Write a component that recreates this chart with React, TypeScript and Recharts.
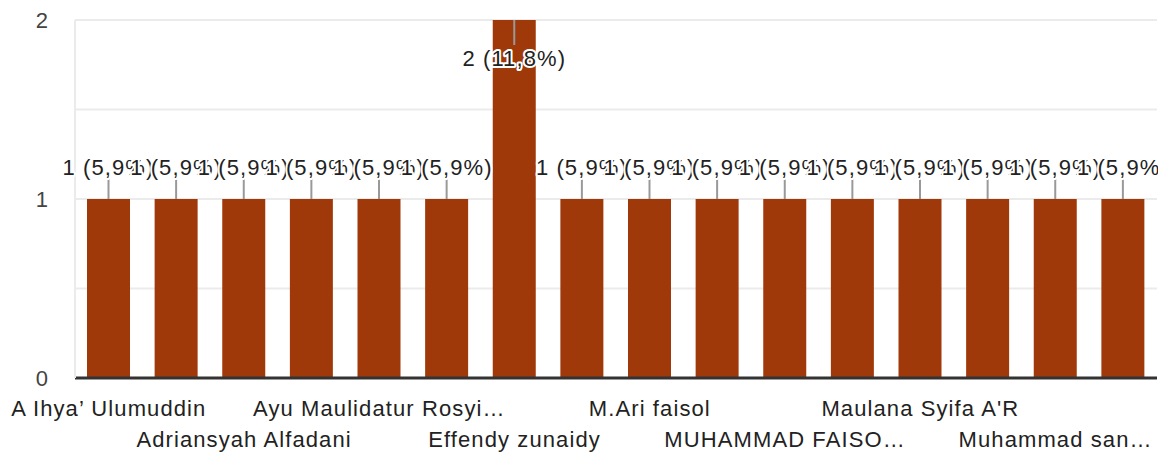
import { Bar, BarChart, CartesianGrid, LabelList, ReferenceLine, XAxis, YAxis } from 'recharts';

const NAMES = [
  'A Ihya’ Ulumuddin',
  'Achmad Fauzi',
  'Adriansyah Alfadani',
  'Ahmad Rizki',
  'Ayu Maulidatur Rosyi…',
  'Dewi Lestari',
  'Effendy zunaidy',
  'Fajar Nugroho',
  'M.Ari faisol',
  'M.Rizal',
  'MUHAMMAD FAISO…',
  'Mahmud',
  "Maulana Syifa A'R",
  'Moh. Hasan',
  'Muhammad san…',
  'Nur Hidayah',
];

const COUNTS = [1, 1, 1, 1, 1, 1, 2, 1, 1, 1, 1, 1, 1, 1, 1, 1];

const Y_TICKS = [0, 0.5, 1, 1.5, 2];

const BAR_COLOR = '#a0390a';
const FONT = '"Liberation Sans", Arial, sans-serif';

const total = COUNTS.reduce((s, v) => s + v, 0);
const data = NAMES.map((name, i) => ({ name, value: COUNTS[i] }));

const pct = (v: number) => `${((v / total) * 100).toFixed(1).replace('.', ',')}%`;

function XTick(props: any) {
  const { x, y, payload, index } = props;
  if (index % 2 !== 0) return null;
  const row = index % 4 === 0 ? 0 : 1;
  return (
    <text
      x={x}
      y={y + 30 + row * 31}
      textAnchor="middle"
      fontSize={22}
      letterSpacing={1.1}
      fontFamily={FONT}
      fill="#222"
    >
      {payload.value}
    </text>
  );
}

function YTick(props: any) {
  const { y, payload } = props;
  if (!Number.isInteger(payload.value)) return null;
  return (
    <text x={48} y={y} dy="0.36em" textAnchor="end" fontSize={22} fontFamily={FONT} fill="#444">
      {payload.value}
    </text>
  );
}

function ValueLabel(props: any) {
  const { x, y, width, value } = props;
  const cx = x + width / 2;
  const inside = y - 45 < 20;
  const lineEnd = inside ? y + 25 : y - 21;
  const textY = inside ? y + 46 : y - 24;
  return (
    <g>
      <line x1={cx} x2={cx} y1={y} y2={lineEnd} stroke="#999" strokeWidth={2} />
      <text
        x={cx}
        y={textY}
        textAnchor="middle"
        fontSize={22}
        letterSpacing={1.1}
        fontFamily={FONT}
        fill="#222"
        stroke="#fff"
        strokeWidth={4}
        strokeLinejoin="round"
        paintOrder="stroke"
      >
        {`${value} (${pct(value)})`}
      </text>
    </g>
  );
}

export default function App() {
  return (
    <div
      style={{
        position: 'absolute',
        left: 0,
        top: 0,
        width: 1158,
        height: 452,
        overflow: 'hidden',
        background: '#fff',
      }}
    >
      <BarChart
        width={1164}
        height={452}
        data={data}
        margin={{ top: 20, right: 7, left: 0, bottom: 0 }}
      >
        <CartesianGrid vertical={false} stroke="#ebebeb" strokeWidth={2} />
        <XAxis
          dataKey="name"
          interval={0}
          height={74}
          tick={<XTick />}
          tickLine={false}
          axisLine={false}
        />
        <YAxis
          width={75}
          domain={[0, 2]}
          ticks={Y_TICKS}
          tick={<YTick />}
          tickLine={false}
          axisLine={{ stroke: '#ebebeb', strokeWidth: 2 }}
        />
        <YAxis
          yAxisId="right"
          orientation="right"
          width={0}
          domain={[0, 2]}
          tick={false}
          tickLine={false}
          axisLine={{ stroke: '#ebebeb', strokeWidth: 2 }}
        />
        <Bar dataKey="value" fill={BAR_COLOR} barSize={43} isAnimationActive={false}>
          <LabelList dataKey="value" content={<ValueLabel />} />
        </Bar>
        <ReferenceLine y={0} stroke="#333" strokeWidth={3} />
      </BarChart>
    </div>
  );
}
